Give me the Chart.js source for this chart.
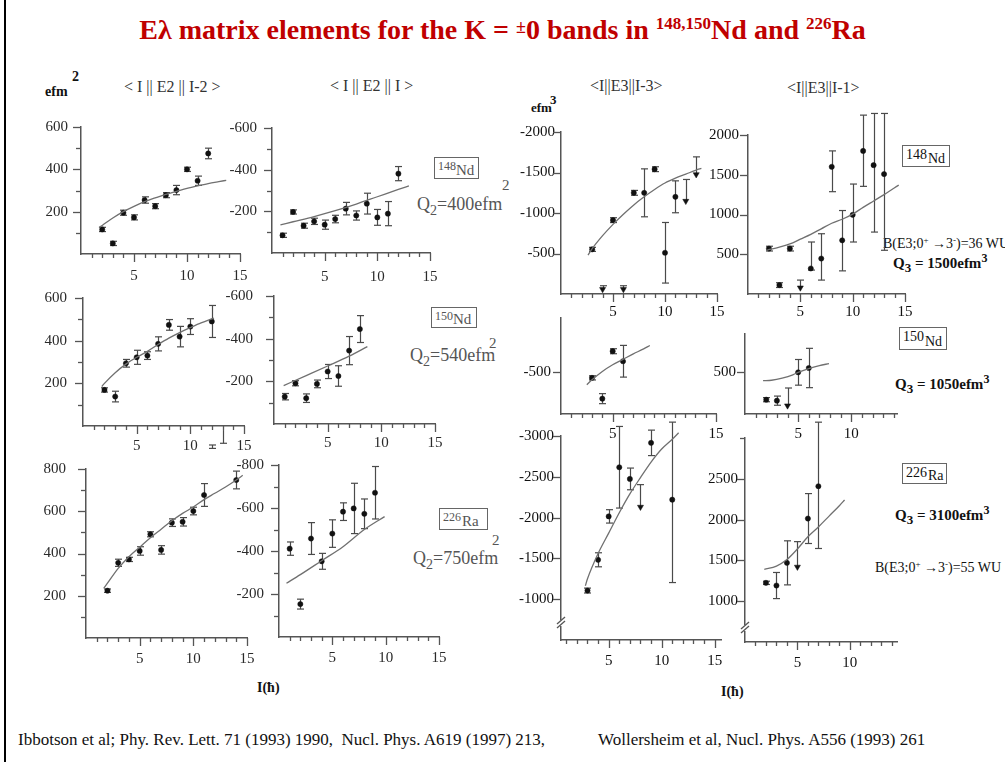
<!DOCTYPE html>
<html><head><meta charset="utf-8">
<script src="https://cdn.jsdelivr.net/npm/chart.js@4.4.1/dist/chart.umd.min.js"></script>
<style>
html,body{margin:0;padding:0;background:#fff;}
#page{position:relative;width:1005px;height:762px;overflow:hidden;background:#fff;font-family:"Liberation Serif","Times New Roman",serif;color:#111;}
#page canvas{position:absolute;}
.t{position:absolute;white-space:nowrap;line-height:1;}
.hd{font-size:16px;color:#333;}
.box{position:absolute;border:1px solid #666;box-sizing:border-box;white-space:nowrap;line-height:1;}
.box span{position:absolute;}
.sb{position:relative;}
</style></head><body><div id="page">
<div style="position:absolute;left:4px;top:0;width:2px;height:762px;background:#000"></div>

<div class="t" style="left:0;width:1005px;text-align:center;top:16px;font-size:28px;font-weight:bold;color:#c00000">Eλ matrix elements for the K = <span class="sb" style="font-size:18px;top:-6px">±</span>0 bands in <span class="sb" style="font-size:17px;top:-10px">148,150</span>Nd and <span class="sb" style="font-size:17px;top:-10px">226</span>Ra</div>

<div class="t hd" style="left:124px;top:79px">&lt; I || E2 || I-2 &gt;</div>
<div class="t hd" style="left:330px;top:78px">&lt; I || E2 || I &gt;</div>
<div class="t hd" style="left:590px;top:78px">&lt;I||E3||I-3&gt;</div>
<div class="t hd" style="left:787px;top:80px">&lt;I||E3||I-1&gt;</div>

<div class="t" style="left:45px;top:85px;font-size:14px;font-weight:bold">efm</div>
<div class="t" style="left:72px;top:70px;font-size:14px;font-weight:bold">2</div>
<div class="t" style="left:531px;top:101px;font-size:13px;font-weight:bold">efm</div>
<div class="t" style="left:550px;top:93px;font-size:13px;font-weight:bold">3</div>

<div class="box" style="left:434px;top:157px;width:45px;height:22px;color:#555"><span style="left:3px;top:2px;font-size:12px">148</span><span style="left:21px;top:5px;font-size:15px">Nd</span></div>
<div class="t" style="left:417px;top:195px;font-size:18px;color:#555">Q<span class="sb" style="font-size:14px;top:5px">2</span>=400efm</div>
<div class="t" style="left:502px;top:178px;font-size:15px;color:#555">2</div>

<div class="box" style="left:431px;top:307px;width:46px;height:21px;color:#555"><span style="left:3px;top:2px;font-size:12px">150</span><span style="left:21px;top:4px;font-size:15px">Nd</span></div>
<div class="t" style="left:410px;top:346px;font-size:18px;color:#555">Q<span class="sb" style="font-size:14px;top:5px">2</span>=540efm</div>
<div class="t" style="left:489px;top:336px;font-size:15px;color:#555">2</div>

<div class="box" style="left:439px;top:508px;width:49px;height:22px;color:#555"><span style="left:3px;top:2px;font-size:12px">226</span><span style="left:22px;top:5px;font-size:15px">Ra</span></div>
<div class="t" style="left:413px;top:549px;font-size:18px;color:#555">Q<span class="sb" style="font-size:14px;top:5px">2</span>=750efm</div>
<div class="t" style="left:492px;top:533px;font-size:15px;color:#555">2</div>

<div class="box" style="left:902px;top:145px;width:48px;height:22px;color:#111"><span style="left:3px;top:2px;font-size:14px">148</span><span style="left:25px;top:6px;font-size:14px">Nd</span></div>
<div class="t" style="left:883px;top:237px;font-size:14px">B(E3;0<span class="sb" style="font-size:9px;top:-5px">+</span> →3<span class="sb" style="font-size:9px;top:-5px">-</span>)=36 WU</div>
<div class="t" style="left:893px;top:256px;font-size:15px;font-weight:bold">Q<span class="sb" style="font-size:13px;top:4px">3</span> = 1500efm<span class="sb" style="font-size:12px;top:-6px">3</span></div>

<div class="box" style="left:899px;top:327px;width:48px;height:23px;color:#111"><span style="left:3px;top:2px;font-size:14px">150</span><span style="left:25px;top:7px;font-size:14px">Nd</span></div>
<div class="t" style="left:895px;top:377px;font-size:15px;font-weight:bold">Q<span class="sb" style="font-size:13px;top:4px">3</span> = 1050efm<span class="sb" style="font-size:12px;top:-6px">3</span></div>

<div class="box" style="left:902px;top:463px;width:45px;height:21px;color:#111"><span style="left:3px;top:2px;font-size:14px">226</span><span style="left:25px;top:5px;font-size:14px">Ra</span></div>
<div class="t" style="left:895px;top:508px;font-size:15px;font-weight:bold">Q<span class="sb" style="font-size:13px;top:4px">3</span> = 3100efm<span class="sb" style="font-size:12px;top:-6px">3</span></div>
<div class="t" style="left:875px;top:561px;font-size:14px">B(E3;0<span class="sb" style="font-size:9px;top:-5px">+</span> →3<span class="sb" style="font-size:9px;top:-5px">-</span>)=55 WU</div>

<div class="t" style="left:257px;top:681px;font-size:14px;font-weight:bold">I(ħ)</div>
<div class="t" style="left:721px;top:685px;font-size:14px;font-weight:bold">I(ħ)</div>

<div class="t" style="left:18px;top:731px;font-size:17px">Ibbotson et al; Phy. Rev. Lett. 71 (1993) 1990,&nbsp; Nucl. Phys. A619 (1997) 213,</div>
<div class="t" style="left:598px;top:731px;font-size:17px">Wollersheim et al, Nucl. Phys. A556 (1993) 261</div>
</div>
<script>
// ---------- tick values & labels ----------
const X_TICKS = [1,2,3,4,5,6,7,8,9,10,11,12,13,14,15];
const X_TICKS_14 = [1,2,3,4,5,6,7,8,9,10,11,12,13,14];
const X_LABELS = [5,10,15];
const X_LABELS_G = [5,15];
const X_LABELS_SHORT = [5,10];
const Y_E2_600 = [100,200,300,400,500,600];
const Y_E2_600_LAB = [200,400,600];
const Y_E2_N600 = [-100,-200,-300,-400,-500,-600];
const Y_E2_N600_LAB = [-200,-400,-600];
const Y_E2_800 = [100,200,300,400,500,600,700,800];
const Y_E2_800_LAB = [200,400,600,800];
const Y_E2_N800 = [-100,-200,-300,-400,-500,-600,-700,-800];
const Y_E2_N800_LAB = [-200,-400,-600,-800];
const Y_C = [-500,-1000,-1500,-2000];
const Y_D = [500,1000,1500,2000];
const Y_G = [-500];
const Y_H = [500];
const Y_K = [-1000,-1500,-2000,-2500,-3000];
const Y_L = [1000,1500,2000,2500,3000];
const Y_L_LAB = [1000,1500,2000,2500];

// ---------- data ----------
// 148Nd <I||E2||I-2>
const A_I = [2,3,4,5,6,7,8,9,10,11,12];
const A_val = [116,50,195,173,255,226,278,302,400,346,475];
const A_err = [10,10,12,12,15,12,12,22,10,22,25];
const A_fitI = [1.7,2,3,4,5,6,7,8,9,10,11,12,13,13.7];
const A_fitV = [125,135,170,200,225,247,265,282,296,310,322,333,342,348];
// 148Nd <I||E2||I>
const B_I = [1,2,3,4,5,6,7,8,9,10,11,12];
const B_val = [-85,-197,-131,-152,-136,-163,-213,-180,-237,-171,-189,-381];
const B_err = [10,10,12,15,22,18,30,22,50,38,58,34];
const B_fitI = [0.8,2,4,6,8,10,12,13];
const B_fitV = [-135,-150,-175,-203,-235,-270,-305,-322];
// 148Nd <I||E3||I-3>
const C_I = [3,4,5,6,7,8,9,10,11,12,13];
const C_val = [-551,-58,-912,-58,-1249,-1249,-1541,-509,-1200,-1147,-1476];
const C_errP = [25,0,30,0,30,296,30,374,197,0,0];
const C_errM = [25,44,30,44,30,296,30,374,197,267,217];
const C_mark = ['o','v','o','v','o','o','o','o','o','v','v'];
const C_fitI = [2.6,3,4,5,6,7,8,9,10,11,12,13,13.5];
const C_fitV = [-480,-560,-720,-860,-985,-1100,-1200,-1290,-1370,-1430,-1480,-1530,-1550];
// 148Nd <I||E3||I-1>
const D_I = [2,3,4,5,6,7,8,9,10,11,12,13];
const D_val = [571,112,571,79,321,446,1600,675,996,1800,1621,1508];
const D_errP = [30,30,30,96,333,312,200,375,387,450,650,763];
const D_errM = [30,30,30,0,20,271,313,384,342,446,842,958];
const D_mark = ['o','o','o','v','o','o','o','o','o','o','o','o'];
const D_fitI = [1.8,3,4,5,6,7,8,9,10,11,12,13,14.4];
const D_fitV = [550,590,630,690,750,820,890,940,1005,1090,1170,1250,1370];
// 150Nd <I||E2||I-2>
const E_I = [2,3,4,5,6,7,8,9,10,12,12,13];
const E_val = [169,138,294,322,330,385,474,419,466,490,-97,-19];
const E_errP = [10,25,18,33,18,33,25,48,37,75,8,0];
const E_errM = [10,25,18,33,18,33,25,48,37,75,8,62];
const E_mark = ['o','o','o','o','o','o','o','o','o','o','o','none'];
const E_fitI = [1.75,2,3,4,5,6,7,8,9,10,11,12.2];
const E_fitV = [185,200,250,290,322,350,382,412,438,461,483,506];
// 150Nd <I||E2||I>
const F_I = [1,2,3,4,5,6,7,8];
const F_val = [-128,-191,-121,-188,-246,-225,-344,-445];
const F_err = [15,12,20,18,33,48,66,63];
const F_fitI = [0.9,3,5,7,8.7];
const F_fitV = [-180,-227,-272,-318,-363];
// 150Nd <I||E3||I-3>
const G_I = [3,4,5,6];
const G_val = [-433,-184,-752,-632];
const G_err = [25,60,30,190];
const G_fitI = [2.5,3,4,5,6,7,8,8.6];
const G_fitV = [-350,-410,-510,-590,-655,-720,-780,-820];
// 150Nd <I||E3||I-1>
const H_I = [2,3,4,5,6];
const H_val = [172,160,100,500,552];
const H_errP = [25,55,212,154,236];
const H_errM = [25,55,0,154,236];
const H_mark = ['o','o','v','o','o'];
const H_fitI = [1.7,2.5,3.5,4.5,5,6,7,7.9];
const H_fitV = [400,405,430,470,500,545,580,605];
// 226Ra <I||E2||I-2>
const I_I = [2,3,4,5,6,7,8,9,10,11,14];
const I_val = [224,356,372,412,491,417,546,550,601,677,748];
const I_err = [8,17,10,20,12,20,18,20,18,54,42];
const I_fitI = [1.65,2,3,4,5,6,7,8,9,10,11,12,13,14,14.6];
const I_fitV = [235,260,330,385,430,475,515,555,590,620,655,685,715,748,770];
// 226Ra <I||E2||I>
const J_I = [1,2,3,4,5,6,7,8,9];
const J_val = [-411,-153,-458,-352,-481,-583,-598,-573,-671];
const J_err = [31,23,74,37,64,41,117,69,122];
const J_fitI = [0.7,2,4,6,8,9.9];
const J_fitV = [-250,-290,-355,-420,-500,-560];
// 226Ra <I||E3||I-3>
const K_I = [3,4,5,6,7,8,9,11];
const K_val = [-1106,-1483,-2015,-2617,-2474,-2130,-2916,-2220];
const K_errP = [30,86,82,500,133,0,156,1016];
const K_errM = [30,86,82,500,133,274,156,950];
const K_mark = ['o','o','o','o','o','v','o','o'];
const K_fitI = [2.8,3,4,5,6,7,8,9,10,11,11.6];
const K_fitV = [-1165,-1250,-1560,-1810,-2060,-2290,-2490,-2680,-2840,-2960,-3040];
// 226Ra <I||E3||I-1>
const L_I = [2,3,4,5,6,7];
const L_val = [1225,1192,1470,1420,2013,2409];
const L_errP = [20,160,270,310,306,785];
const L_errM = [20,160,270,0,306,763];
const L_mark = ['o','o','o','v','o','o'];
const L_fitI = [1.84,3,4,5,6,7,8,9,9.5];
const L_fitV = [1390,1430,1510,1640,1790,1910,2040,2170,2240];

// ---------- layout (positions only) ----------
const E2C = '#2a2a2a', E3C = '#111';
const panels = [
 {area:[81,127,240,254], xr:[0,15], xt:X_TICKS, xl:X_LABELS, xpad:13, yr:[0,600], rev:false, yt:Y_E2_600, yl:Y_E2_600_LAB, ypad:13, col:E2C, I:A_I, v:A_val, ep:A_err, em:A_err, fI:A_fitI, fV:A_fitV},
 {area:[272,128,430,253], xr:[0,15], xt:X_TICKS, xl:X_LABELS, xpad:15, yr:[-600,0], rev:true, yt:Y_E2_N600, yl:Y_E2_N600_LAB, ypad:15, col:E2C, I:B_I, v:B_val, ep:B_err, em:B_err, fI:B_fitI, fV:B_fitV},
 {area:[561,132,717,294], xr:[0,15], xt:X_TICKS, xl:X_LABELS, xpad:9, yr:[-2000,0], rev:true, yt:Y_C, yl:Y_C, ypad:6, col:E3C, I:C_I, v:C_val, ep:C_errP, em:C_errM, mk:C_mark, fI:C_fitI, fV:C_fitV},
 {area:[748,135,905,294], xr:[0,15], xt:X_TICKS, xl:X_LABELS, xpad:9, yr:[0,2000], rev:false, yt:Y_D, yl:Y_D, ypad:9, col:E3C, I:D_I, v:D_val, ep:D_errP, em:D_errM, mk:D_mark, fI:D_fitI, fV:D_fitV},
 {area:[83,298,244,426], xr:[0,15], xt:X_TICKS, xl:X_LABELS, xpad:11, yr:[0,600], rev:false, yt:Y_E2_600, yl:Y_E2_600_LAB, ypad:16, col:E2C, I:E_I, v:E_val, ep:E_errP, em:E_errM, mk:E_mark, fI:E_fitI, fV:E_fitV},
 {area:[274,296,435,424], xr:[0,15], xt:X_TICKS, xl:X_LABELS, xpad:10, yr:[-600,0], rev:true, yt:Y_E2_N600, yl:Y_E2_N600_LAB, ypad:21, col:E2C, I:F_I, v:F_val, ep:F_err, em:F_err, fI:F_fitI, fV:F_fitV},
 {area:[561,318,716,414], xr:[0,15], xt:X_TICKS, xl:X_LABELS_G, xpad:11, yr:[-1150,0], rev:true, yt:Y_G, yl:Y_G, ypad:10, col:E3C, I:G_I, v:G_val, ep:G_err, em:G_err, fI:G_fitI, fV:G_fitV},
 {area:[745,334,897,414], xr:[0,14.3], xt:X_TICKS_14, xl:X_LABELS_SHORT, xpad:11, yr:[0,960], rev:false, yt:Y_H, yl:Y_H, ypad:9, col:E3C, I:H_I, v:H_val, ep:H_errP, em:H_errM, mk:H_mark, fI:H_fitI, fV:H_fitV},
 {area:[86,469,247,638], xr:[0,15], xt:X_TICKS, xl:X_LABELS, xpad:12, yr:[0,800], rev:false, yt:Y_E2_800, yl:Y_E2_800_LAB, ypad:20, col:E2C, I:I_I, v:I_val, ep:I_err, em:I_err, fI:I_fitI, fV:I_fitV},
 {area:[279,465,439,637], xr:[0,15], xt:X_TICKS, xl:X_LABELS, xpad:12, yr:[-800,0], rev:true, yt:Y_E2_N800, yl:Y_E2_N800_LAB, ypad:15, col:E2C, I:J_I, v:J_val, ep:J_err, em:J_err, fI:J_fitI, fV:J_fitV},
 {area:[561,436,721,640], xr:[0.5,15.6], xt:X_TICKS, xl:X_LABELS, xpad:12, yr:[-3000,-500], rev:true, yt:Y_K, yl:Y_K, ypad:7, col:E3C, I:K_I, v:K_val, ep:K_errP, em:K_errM, mk:K_mark, fI:K_fitI, fV:K_fitV, brk:-708},
 {area:[745,438,897,642], xr:[0,14.5], xt:X_TICKS_14, xl:X_LABELS_SHORT, xpad:12, yr:[500,3000], rev:false, yt:Y_L, yl:Y_L_LAB, ypad:7, col:E3C, I:L_I, v:L_val, ep:L_errP, em:L_errM, mk:L_mark, fI:L_fitI, fV:L_fitV, brk:672}
];

const AX = '#555';
const YW = 70, PT = 30, PR = 24, XH = 40;
const page = document.getElementById('page');
Chart.defaults.font.family = '"Liberation Serif","Times New Roman",serif';

function line(ctx,x1,y1,x2,y2){ctx.beginPath();ctx.moveTo(x1,y1);ctx.lineTo(x2,y2);ctx.stroke();}

function buildPanel(p){
  const [L,T,R,B] = p.area;
  const w = YW + (R-L) + PR, h = PT + (B-T) + XH;
  const cv = document.createElement('canvas');
  cv.width = w; cv.height = h;
  cv.style.left = (L-YW)+'px'; cv.style.top = (T-PT)+'px';
  cv.style.width = w+'px'; cv.style.height = h+'px';
  page.appendChild(cv);
  const pts = p.I.map((x,i)=>({x:x, y:p.v[i]}));
  const fit = p.fI.map((x,i)=>({x:x, y:p.fV[i]}));
  const mk = i => p.mk ? p.mk[i] : 'o';

  const errPlugin = {id:'err', beforeDatasetsDraw(chart){
    const ctx = chart.ctx, xs = chart.scales.x, ys = chart.scales.y;
    ctx.save(); ctx.strokeStyle = '#4a4a4a'; ctx.lineWidth = 1.2;
    p.I.forEach((x,i)=>{
      const ep = p.ep[i], em = p.em[i];
      if (!ep && !em) return;
      const px = Math.round(xs.getPixelForValue(x))+0.5;
      const y1 = ys.getPixelForValue(p.v[i]+ep), y2 = ys.getPixelForValue(p.v[i]-em);
      line(ctx,px,y1,px,y2);
      if (ep) line(ctx,px-3.5,y1,px+3.5,y1);
      if (em) line(ctx,px-3.5,y2,px+3.5,y2);
    });
    ctx.restore();
  }};
  const tickPlugin = {id:'tk', afterDraw(chart){
    const ctx = chart.ctx, xs = chart.scales.x, ys = chart.scales.y, a = chart.chartArea;
    ctx.save(); ctx.strokeStyle = AX; ctx.lineWidth = 1.3;
    p.xt.forEach(v=>{ const px = Math.round(xs.getPixelForValue(v))+0.5; const len = p.xl.includes(v)?8:4; line(ctx,px,a.bottom,px,a.bottom+len); });
    p.yt.forEach(v=>{ const py = Math.round(ys.getPixelForValue(v))+0.5; const len = p.yl.includes(v)?8:5; line(ctx,a.left-len,py,a.left,py); });
    if (p.brk !== undefined){
      const y0 = ys.getPixelForValue(p.brk), x0 = a.left;
      ctx.fillStyle = '#fff'; ctx.fillRect(x0-3,y0-3,6,6);
      line(ctx,x0-4,y0+1,x0+4,y0-6); line(ctx,x0-4,y0+5,x0+4,y0-2);
    }
    ctx.restore();
  }};

  new Chart(cv, {
    type:'scatter',
    data:{datasets:[
      {type:'line', data:fit, borderColor:'#707070', borderWidth:1.3, pointRadius:0, cubicInterpolationMode:'monotone', tension:0.4, fill:false, clip:false},
      {data:pts, clip:false, showLine:false,
       pointStyle: c => mk(c.dataIndex)==='v' ? 'triangle' : 'circle',
       pointRotation: c => mk(c.dataIndex)==='v' ? 180 : 0,
       pointRadius: c => mk(c.dataIndex)==='none' ? 0 : (mk(c.dataIndex)==='v' ? 3.5 : 2.6),
       pointBackgroundColor:'#111', pointBorderColor:'#111', pointBorderWidth:0.5}
    ]},
    options:{
      responsive:false, animation:false, devicePixelRatio:1, events:[],
      layout:{padding:{left:0, top:PT, right:PR, bottom:0}},
      plugins:{legend:{display:false}, tooltip:{enabled:false}},
      scales:{
        x:{type:'linear', min:p.xr[0], max:p.xr[1],
           afterBuildTicks: s => { s.ticks = p.xt.map(v=>({value:v})); },
           afterFit: s => { s.height = XH; },
           grid:{display:false, drawTicks:false},
           border:{display:true, color:AX, width:1.5},
           ticks:{autoSkip:false, maxRotation:0, padding:p.xpad, color:p.col, font:{size:15},
                  callback: v => p.xl.includes(v) ? String(v) : ''}},
        y:{type:'linear', min:p.yr[0], max:p.yr[1], reverse:p.rev,
           afterBuildTicks: s => { s.ticks = p.yt.map(v=>({value:v})); },
           afterFit: s => { s.width = YW; },
           grid:{display:false, drawTicks:false},
           border:{display:true, color:AX, width:1.5},
           ticks:{autoSkip:false, padding:p.ypad, color:p.col, font:{size:15},
                  callback: v => p.yl.includes(v) ? String(v) : ''}}
      }
    },
    plugins:[errPlugin, tickPlugin]
  });
}
panels.forEach(buildPanel);
</script>
</body></html>
